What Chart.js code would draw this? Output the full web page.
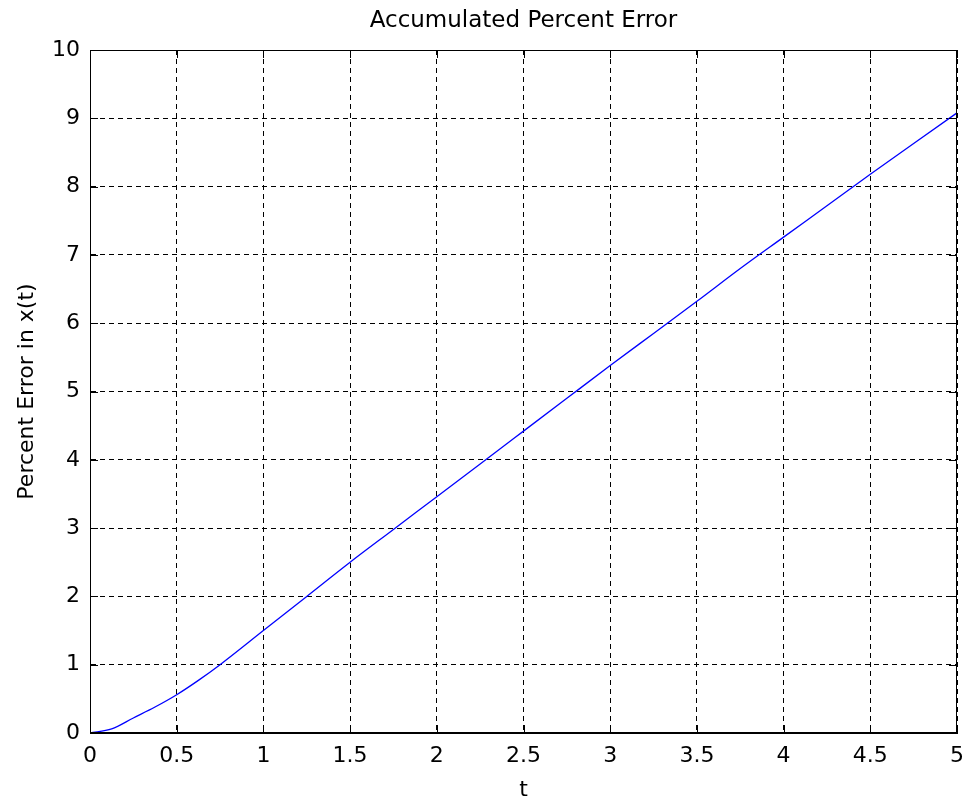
<!DOCTYPE html>
<html>
<head>
<meta charset="utf-8">
<script src="https://cdn.jsdelivr.net/npm/chart.js@4"></script>
<style>
  html, body { margin: 0; padding: 0; background: #fff; }
  #wrap { width: 968px; height: 803px; }
</style>
</head>
<body>
<div id="wrap"><canvas id="errChart" width="968" height="803"></canvas></div>
<script>
// values
const tValues = [0, 0.125, 0.25, 0.375, 0.5, 0.625, 0.75, 1.0, 1.25, 1.5, 1.75, 2.0, 2.25, 2.5, 2.75, 3.0, 3.25, 3.5, 3.75, 4.0, 4.25, 4.5, 4.75, 5.0];
const errValues = [0, 0.06, 0.22, 0.38, 0.56, 0.77, 1.0, 1.5, 2.0, 2.5, 2.98, 3.46, 3.94, 4.42, 4.9, 5.38, 5.85, 6.32, 6.8, 7.26, 7.72, 8.18, 8.63, 9.08];
const xTicks = [0, 0.5, 1, 1.5, 2, 2.5, 3, 3.5, 4, 4.5, 5];
const yTicks = [0, 1, 2, 3, 4, 5, 6, 7, 8, 9, 10];

const FONT = "'DejaVu Sans', 'Liberation Sans', Arial, sans-serif";

// box round the axes and the short inner tick marks, like matlab
const framePlugin = {
  id: "frame",
  afterDatasetsDraw(chart) {
    const { ctx, chartArea: a, scales } = chart;
    const len = 8;
    ctx.save();
    ctx.strokeStyle = "#000";
    ctx.lineWidth = 1;
    ctx.setLineDash([]);
    ctx.strokeRect(Math.round(a.left) + 0.5, Math.round(a.top) + 0.5,
      Math.round(a.right - a.left) - 1, Math.round(a.bottom - a.top) - 1);
    ctx.beginPath();
    xTicks.forEach((v) => {
      const px = Math.round(scales.x.getPixelForValue(v)) + 0.5;
      ctx.moveTo(px, a.bottom);
      ctx.lineTo(px, a.bottom - len);
      ctx.moveTo(px, a.top);
      ctx.lineTo(px, a.top + len);
    });
    yTicks.forEach((v) => {
      const py = Math.round(scales.y.getPixelForValue(v)) + 0.5;
      ctx.moveTo(a.left, py);
      ctx.lineTo(a.left + len, py);
      ctx.moveTo(a.right, py);
      ctx.lineTo(a.right - len, py);
    });
    ctx.stroke();
    ctx.restore();
  },
};

document.addEventListener("DOMContentLoaded", function () {
  const ctx = document.getElementById("errChart").getContext("2d");
  new Chart(ctx, {
    type: "line",
    data: {
      datasets: [
        {
          label: "Percent Error",
          data: tValues.map((t, i) => ({ x: t, y: errValues[i] })),
          borderColor: "#0000ff",
          borderWidth: 1.3,
          pointRadius: 0,
          fill: false,
          cubicInterpolationMode: "monotone",
        },
      ],
    },
    options: {
      responsive: false,
      animation: false,
      layout: { padding: { left: 0, right: 11, top: 0, bottom: 0 } },
      plugins: {
        legend: { display: false },
        tooltip: { enabled: false },
        title: {
          display: true,
          fullSize: false,
          text: "Accumulated Percent Error",
          color: "#000",
          font: { family: FONT, size: 23, weight: "normal" },
          padding: { top: 7, bottom: 15.4 },
        },
      },
      scales: {
        x: {
          type: "linear",
          min: 0,
          max: 5,
          afterBuildTicks: (scale) => {
            scale.ticks = xTicks.map((v) => ({ value: v }));
          },
          afterFit: (scale) => {
            scale.height = 70;
            scale.paddingLeft = 0;
            scale.paddingRight = 0;
          },
          ticks: {
            color: "#000",
            padding: 10,
            maxRotation: 0,
            font: { family: FONT, size: 22 },
            callback: (v) => String(v),
          },
          grid: { color: "#000", lineWidth: 1, drawTicks: false },
          border: { color: "#000", width: 1, dash: [5, 4] },
          title: {
            display: true,
            text: "t",
            color: "#000",
            font: { family: FONT, size: 22 },
            padding: { top: 0, bottom: 0 },
          },
        },
        y: {
          type: "linear",
          min: 0,
          max: 10,
          afterBuildTicks: (scale) => {
            scale.ticks = yTicks.map((v) => ({ value: v }));
          },
          afterFit: (scale) => {
            scale.width = 90;
            scale.paddingTop = 0;
            scale.paddingBottom = 0;
          },
          ticks: {
            color: "#000",
            padding: 10,
            font: { family: FONT, size: 22 },
            callback: (v) => String(v),
          },
          grid: { color: "#000", lineWidth: 1, drawTicks: false },
          border: { color: "#000", width: 1, dash: [5, 4] },
          title: {
            display: true,
            text: "Percent Error in x(t)",
            color: "#000",
            font: { family: FONT, size: 22 },
            padding: { top: 14, bottom: 0 },
          },
        },
      },
    },
    plugins: [framePlugin],
  });
});
</script>
</body>
</html>
